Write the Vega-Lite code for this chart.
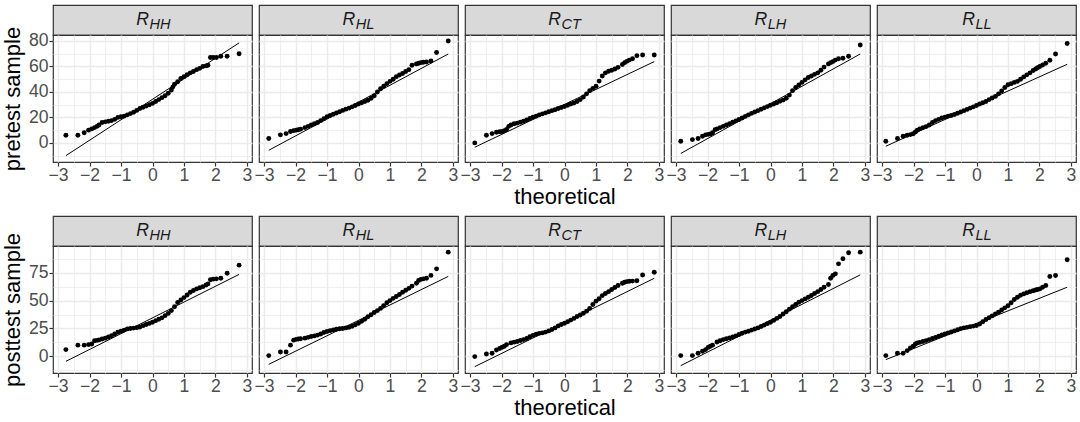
{
"$schema": "https://vega.github.io/schema/vega-lite/v6.json",
"padding": {"left": 0, "top": 4, "right": 0, "bottom": 0},
"config": {
 "view": {"stroke": null},
 "font": "Liberation Sans",
 "axis": {"labelFont": "Liberation Sans", "labelFontSize": 17.6, "labelColor": "#4d4d4d", "tickColor": "#333333", "tickSize": 4, "tickWidth": 1.2, "labelFlush": false, "titleFont": "Liberation Sans", "titleFontSize": 22, "titleFontWeight": "normal", "titleColor": "#000000", "gridColor": "#ebebeb", "domain": false},
 "axisX": {"labelPadding": 0, "titlePadding": 3},
 "axisY": {"labelPadding": 1, "titlePadding": 4}
},
"datasets": {
 "labs": [
  {"g": "HH", "m": "R", "s": "HH"}, {"g": "HL", "m": "R", "s": "HL"}, {"g": "CT", "m": "R", "s": "CT"}, {"g": "LH", "m": "R", "s": "LH"}, {"g": "LL", "m": "R", "s": "LL"}
 ],
 "qql": [
  {"t":"pre","g":"HH","x":-2.75,"y":-10},{"t":"pre","g":"HH","x":2.75,"y":78.5},
  {"t":"pre","g":"HL","x":-2.85,"y":-5.8},{"t":"pre","g":"HL","x":2.85,"y":69.8},
  {"t":"pre","g":"CT","x":-2.85,"y":-3.4},{"t":"pre","g":"CT","x":2.85,"y":63.8},
  {"t":"pre","g":"LH","x":-2.85,"y":-8.3},{"t":"pre","g":"LH","x":2.85,"y":69.8},
  {"t":"pre","g":"LL","x":-2.88,"y":-2.6},{"t":"pre","g":"LL","x":2.88,"y":61.7},
  {"t":"post","g":"HH","x":-2.75,"y":-4.5},{"t":"post","g":"HH","x":2.75,"y":73.5},
  {"t":"post","g":"HL","x":-2.85,"y":-7.2},{"t":"post","g":"HL","x":2.85,"y":71.7},
  {"t":"post","g":"CT","x":-2.85,"y":-9.3},{"t":"post","g":"CT","x":2.85,"y":70},
  {"t":"post","g":"LH","x":-2.85,"y":-8.4},{"t":"post","g":"LH","x":2.85,"y":73.1},
  {"t":"post","g":"LL","x":-2.88,"y":-3},{"t":"post","g":"LL","x":2.88,"y":62}
 ],
 "pts": [
  {"t":"pre","g":"HH","x":-2.75,"y":6},{"t":"pre","g":"HH","x":-2.37,"y":6},{"t":"pre","g":"HH","x":-2.17,"y":8},{"t":"pre","g":"HH","x":-2.03,"y":10},{"t":"pre","g":"HH","x":-1.93,"y":11},{"t":"pre","g":"HH","x":-1.84,"y":12},{"t":"pre","g":"HH","x":-1.76,"y":13},{"t":"pre","g":"HH","x":-1.7,"y":14},{"t":"pre","g":"HH","x":-1.6,"y":16},{"t":"pre","g":"HH","x":-1.5,"y":16.5},{"t":"pre","g":"HH","x":-1.4,"y":17},{"t":"pre","g":"HH","x":-1.3,"y":17.5},{"t":"pre","g":"HH","x":-1.2,"y":18.5},{"t":"pre","g":"HH","x":-1.1,"y":20},{"t":"pre","g":"HH","x":-1,"y":20.5},{"t":"pre","g":"HH","x":-0.9,"y":21},{"t":"pre","g":"HH","x":-0.8,"y":22},{"t":"pre","g":"HH","x":-0.7,"y":23},{"t":"pre","g":"HH","x":-0.6,"y":24},{"t":"pre","g":"HH","x":-0.5,"y":25.5},{"t":"pre","g":"HH","x":-0.4,"y":27},{"t":"pre","g":"HH","x":-0.3,"y":28},{"t":"pre","g":"HH","x":-0.2,"y":29},{"t":"pre","g":"HH","x":-0.1,"y":30},{"t":"pre","g":"HH","x":0,"y":31},{"t":"pre","g":"HH","x":0.1,"y":32.5},{"t":"pre","g":"HH","x":0.2,"y":34},{"t":"pre","g":"HH","x":0.3,"y":35.5},{"t":"pre","g":"HH","x":0.4,"y":37},{"t":"pre","g":"HH","x":0.5,"y":39},{"t":"pre","g":"HH","x":0.6,"y":41.5},{"t":"pre","g":"HH","x":0.65,"y":44},{"t":"pre","g":"HH","x":0.7,"y":46},{"t":"pre","g":"HH","x":0.8,"y":48},{"t":"pre","g":"HH","x":0.9,"y":50.5},{"t":"pre","g":"HH","x":1,"y":52},{"t":"pre","g":"HH","x":1.1,"y":53.5},{"t":"pre","g":"HH","x":1.2,"y":55},{"t":"pre","g":"HH","x":1.3,"y":56},{"t":"pre","g":"HH","x":1.4,"y":57.5},{"t":"pre","g":"HH","x":1.5,"y":58.5},{"t":"pre","g":"HH","x":1.6,"y":60},{"t":"pre","g":"HH","x":1.7,"y":60.5},{"t":"pre","g":"HH","x":1.76,"y":61},{"t":"pre","g":"HH","x":1.84,"y":67},{"t":"pre","g":"HH","x":1.93,"y":67},{"t":"pre","g":"HH","x":2.03,"y":67},{"t":"pre","g":"HH","x":2.17,"y":68},{"t":"pre","g":"HH","x":2.37,"y":68},{"t":"pre","g":"HH","x":2.75,"y":70},

  {"t":"pre","g":"HL","x":-2.85,"y":3.5},{"t":"pre","g":"HL","x":-2.48,"y":6.3},{"t":"pre","g":"HL","x":-2.3,"y":7.3},{"t":"pre","g":"HL","x":-2.16,"y":9},{"t":"pre","g":"HL","x":-2.06,"y":9.6},{"t":"pre","g":"HL","x":-1.98,"y":10},{"t":"pre","g":"HL","x":-1.91,"y":10.3},{"t":"pre","g":"HL","x":-1.84,"y":10.8},{"t":"pre","g":"HL","x":-1.7,"y":12},{"t":"pre","g":"HL","x":-1.6,"y":13},{"t":"pre","g":"HL","x":-1.5,"y":14},{"t":"pre","g":"HL","x":-1.4,"y":15},{"t":"pre","g":"HL","x":-1.3,"y":16},{"t":"pre","g":"HL","x":-1.2,"y":17.5},{"t":"pre","g":"HL","x":-1.1,"y":19},{"t":"pre","g":"HL","x":-1,"y":20.5},{"t":"pre","g":"HL","x":-0.9,"y":21.5},{"t":"pre","g":"HL","x":-0.8,"y":22.5},{"t":"pre","g":"HL","x":-0.7,"y":23.5},{"t":"pre","g":"HL","x":-0.6,"y":24.5},{"t":"pre","g":"HL","x":-0.5,"y":25.5},{"t":"pre","g":"HL","x":-0.4,"y":26.5},{"t":"pre","g":"HL","x":-0.3,"y":27.3},{"t":"pre","g":"HL","x":-0.2,"y":28.3},{"t":"pre","g":"HL","x":-0.1,"y":29.3},{"t":"pre","g":"HL","x":0,"y":30.5},{"t":"pre","g":"HL","x":0.1,"y":31.5},{"t":"pre","g":"HL","x":0.2,"y":32.5},{"t":"pre","g":"HL","x":0.3,"y":33.5},{"t":"pre","g":"HL","x":0.4,"y":35},{"t":"pre","g":"HL","x":0.5,"y":37},{"t":"pre","g":"HL","x":0.6,"y":40},{"t":"pre","g":"HL","x":0.7,"y":42.5},{"t":"pre","g":"HL","x":0.8,"y":44.5},{"t":"pre","g":"HL","x":0.9,"y":46.5},{"t":"pre","g":"HL","x":1,"y":48.3},{"t":"pre","g":"HL","x":1.1,"y":50},{"t":"pre","g":"HL","x":1.2,"y":52},{"t":"pre","g":"HL","x":1.3,"y":53.3},{"t":"pre","g":"HL","x":1.4,"y":54.5},{"t":"pre","g":"HL","x":1.5,"y":56},{"t":"pre","g":"HL","x":1.6,"y":57.5},{"t":"pre","g":"HL","x":1.7,"y":61},{"t":"pre","g":"HL","x":1.84,"y":62},{"t":"pre","g":"HL","x":1.91,"y":62.5},{"t":"pre","g":"HL","x":1.98,"y":63},{"t":"pre","g":"HL","x":2.06,"y":63.3},{"t":"pre","g":"HL","x":2.16,"y":63.5},{"t":"pre","g":"HL","x":2.3,"y":64.3},{"t":"pre","g":"HL","x":2.48,"y":71},{"t":"pre","g":"HL","x":2.85,"y":80},

  {"t":"pre","g":"CT","x":-2.85,"y":0},{"t":"pre","g":"CT","x":-2.48,"y":6},{"t":"pre","g":"CT","x":-2.3,"y":7.3},{"t":"pre","g":"CT","x":-2.16,"y":8.4},{"t":"pre","g":"CT","x":-2.06,"y":8.8},{"t":"pre","g":"CT","x":-1.98,"y":9},{"t":"pre","g":"CT","x":-1.91,"y":9.5},{"t":"pre","g":"CT","x":-1.84,"y":10.5},{"t":"pre","g":"CT","x":-1.77,"y":13},{"t":"pre","g":"CT","x":-1.7,"y":14},{"t":"pre","g":"CT","x":-1.6,"y":15},{"t":"pre","g":"CT","x":-1.5,"y":15.5},{"t":"pre","g":"CT","x":-1.4,"y":16.3},{"t":"pre","g":"CT","x":-1.3,"y":17},{"t":"pre","g":"CT","x":-1.2,"y":18},{"t":"pre","g":"CT","x":-1.1,"y":19.2},{"t":"pre","g":"CT","x":-1,"y":20.2},{"t":"pre","g":"CT","x":-0.9,"y":21},{"t":"pre","g":"CT","x":-0.8,"y":22},{"t":"pre","g":"CT","x":-0.7,"y":22.8},{"t":"pre","g":"CT","x":-0.6,"y":23.6},{"t":"pre","g":"CT","x":-0.5,"y":24.5},{"t":"pre","g":"CT","x":-0.4,"y":25.3},{"t":"pre","g":"CT","x":-0.3,"y":26},{"t":"pre","g":"CT","x":-0.2,"y":27},{"t":"pre","g":"CT","x":-0.1,"y":27.8},{"t":"pre","g":"CT","x":0,"y":28.6},{"t":"pre","g":"CT","x":0.1,"y":29.5},{"t":"pre","g":"CT","x":0.2,"y":30.5},{"t":"pre","g":"CT","x":0.3,"y":31.3},{"t":"pre","g":"CT","x":0.4,"y":32.5},{"t":"pre","g":"CT","x":0.5,"y":34},{"t":"pre","g":"CT","x":0.6,"y":36},{"t":"pre","g":"CT","x":0.7,"y":38.5},{"t":"pre","g":"CT","x":0.8,"y":41},{"t":"pre","g":"CT","x":0.9,"y":42.8},{"t":"pre","g":"CT","x":1,"y":44.5},{"t":"pre","g":"CT","x":1.1,"y":48.5},{"t":"pre","g":"CT","x":1.2,"y":52.5},{"t":"pre","g":"CT","x":1.3,"y":55},{"t":"pre","g":"CT","x":1.4,"y":56.3},{"t":"pre","g":"CT","x":1.5,"y":57},{"t":"pre","g":"CT","x":1.6,"y":58},{"t":"pre","g":"CT","x":1.7,"y":59.3},{"t":"pre","g":"CT","x":1.84,"y":61.5},{"t":"pre","g":"CT","x":1.91,"y":63},{"t":"pre","g":"CT","x":1.98,"y":64},{"t":"pre","g":"CT","x":2.06,"y":65},{"t":"pre","g":"CT","x":2.16,"y":66},{"t":"pre","g":"CT","x":2.3,"y":68.5},{"t":"pre","g":"CT","x":2.48,"y":69},{"t":"pre","g":"CT","x":2.85,"y":69},

  {"t":"pre","g":"LH","x":-2.85,"y":1.3},{"t":"pre","g":"LH","x":-2.48,"y":2.6},{"t":"pre","g":"LH","x":-2.3,"y":3.4},{"t":"pre","g":"LH","x":-2.16,"y":5.2},{"t":"pre","g":"LH","x":-2.06,"y":6.3},{"t":"pre","g":"LH","x":-1.98,"y":6.7},{"t":"pre","g":"LH","x":-1.91,"y":7},{"t":"pre","g":"LH","x":-1.84,"y":8},{"t":"pre","g":"LH","x":-1.76,"y":10.4},{"t":"pre","g":"LH","x":-1.7,"y":11},{"t":"pre","g":"LH","x":-1.6,"y":12},{"t":"pre","g":"LH","x":-1.5,"y":13},{"t":"pre","g":"LH","x":-1.4,"y":14},{"t":"pre","g":"LH","x":-1.3,"y":15},{"t":"pre","g":"LH","x":-1.2,"y":16.2},{"t":"pre","g":"LH","x":-1.1,"y":17.3},{"t":"pre","g":"LH","x":-1,"y":18.4},{"t":"pre","g":"LH","x":-0.9,"y":19.5},{"t":"pre","g":"LH","x":-0.8,"y":20.8},{"t":"pre","g":"LH","x":-0.7,"y":22},{"t":"pre","g":"LH","x":-0.6,"y":23.2},{"t":"pre","g":"LH","x":-0.5,"y":24.3},{"t":"pre","g":"LH","x":-0.4,"y":25.3},{"t":"pre","g":"LH","x":-0.3,"y":26.4},{"t":"pre","g":"LH","x":-0.2,"y":27.5},{"t":"pre","g":"LH","x":-0.1,"y":28.5},{"t":"pre","g":"LH","x":0,"y":29.5},{"t":"pre","g":"LH","x":0.1,"y":30.5},{"t":"pre","g":"LH","x":0.2,"y":31.5},{"t":"pre","g":"LH","x":0.3,"y":32.6},{"t":"pre","g":"LH","x":0.4,"y":33.6},{"t":"pre","g":"LH","x":0.5,"y":35},{"t":"pre","g":"LH","x":0.6,"y":37.5},{"t":"pre","g":"LH","x":0.7,"y":41},{"t":"pre","g":"LH","x":0.8,"y":43.5},{"t":"pre","g":"LH","x":0.9,"y":45.5},{"t":"pre","g":"LH","x":1,"y":47.5},{"t":"pre","g":"LH","x":1.1,"y":49.5},{"t":"pre","g":"LH","x":1.2,"y":51.3},{"t":"pre","g":"LH","x":1.3,"y":52.5},{"t":"pre","g":"LH","x":1.4,"y":53.8},{"t":"pre","g":"LH","x":1.5,"y":55},{"t":"pre","g":"LH","x":1.6,"y":57},{"t":"pre","g":"LH","x":1.7,"y":59.5},{"t":"pre","g":"LH","x":1.84,"y":62},{"t":"pre","g":"LH","x":1.91,"y":63},{"t":"pre","g":"LH","x":1.98,"y":63.8},{"t":"pre","g":"LH","x":2.06,"y":65},{"t":"pre","g":"LH","x":2.16,"y":66},{"t":"pre","g":"LH","x":2.3,"y":66.4},{"t":"pre","g":"LH","x":2.48,"y":68},{"t":"pre","g":"LH","x":2.85,"y":76.8},

  {"t":"pre","g":"LL","x":-2.88,"y":1.3},{"t":"pre","g":"LL","x":-2.51,"y":3.4},{"t":"pre","g":"LL","x":-2.33,"y":5.2},{"t":"pre","g":"LL","x":-2.2,"y":6},{"t":"pre","g":"LL","x":-2.1,"y":6.5},{"t":"pre","g":"LL","x":-2.01,"y":7.2},{"t":"pre","g":"LL","x":-1.94,"y":8.5},{"t":"pre","g":"LL","x":-1.88,"y":10},{"t":"pre","g":"LL","x":-1.8,"y":11},{"t":"pre","g":"LL","x":-1.7,"y":12},{"t":"pre","g":"LL","x":-1.6,"y":12.8},{"t":"pre","g":"LL","x":-1.5,"y":14},{"t":"pre","g":"LL","x":-1.4,"y":16},{"t":"pre","g":"LL","x":-1.3,"y":17.5},{"t":"pre","g":"LL","x":-1.2,"y":18.5},{"t":"pre","g":"LL","x":-1.1,"y":19.5},{"t":"pre","g":"LL","x":-1,"y":20.2},{"t":"pre","g":"LL","x":-0.9,"y":21},{"t":"pre","g":"LL","x":-0.8,"y":21.5},{"t":"pre","g":"LL","x":-0.7,"y":22.3},{"t":"pre","g":"LL","x":-0.6,"y":23.3},{"t":"pre","g":"LL","x":-0.5,"y":24.3},{"t":"pre","g":"LL","x":-0.4,"y":25.3},{"t":"pre","g":"LL","x":-0.3,"y":26.3},{"t":"pre","g":"LL","x":-0.2,"y":27.3},{"t":"pre","g":"LL","x":-0.1,"y":28.3},{"t":"pre","g":"LL","x":0,"y":29.4},{"t":"pre","g":"LL","x":0.1,"y":30.5},{"t":"pre","g":"LL","x":0.2,"y":31.5},{"t":"pre","g":"LL","x":0.3,"y":32.5},{"t":"pre","g":"LL","x":0.4,"y":34},{"t":"pre","g":"LL","x":0.5,"y":35.3},{"t":"pre","g":"LL","x":0.6,"y":36.5},{"t":"pre","g":"LL","x":0.7,"y":38.5},{"t":"pre","g":"LL","x":0.8,"y":40.8},{"t":"pre","g":"LL","x":0.9,"y":43.5},{"t":"pre","g":"LL","x":1,"y":45.6},{"t":"pre","g":"LL","x":1.1,"y":46.5},{"t":"pre","g":"LL","x":1.2,"y":47.5},{"t":"pre","g":"LL","x":1.3,"y":48.3},{"t":"pre","g":"LL","x":1.4,"y":50},{"t":"pre","g":"LL","x":1.5,"y":51.8},{"t":"pre","g":"LL","x":1.6,"y":53.4},{"t":"pre","g":"LL","x":1.7,"y":55},{"t":"pre","g":"LL","x":1.8,"y":56.8},{"t":"pre","g":"LL","x":1.88,"y":58},{"t":"pre","g":"LL","x":1.94,"y":59},{"t":"pre","g":"LL","x":2.01,"y":60},{"t":"pre","g":"LL","x":2.1,"y":61.2},{"t":"pre","g":"LL","x":2.2,"y":62.5},{"t":"pre","g":"LL","x":2.33,"y":64.9},{"t":"pre","g":"LL","x":2.51,"y":69.8},{"t":"pre","g":"LL","x":2.88,"y":78},

  {"t":"post","g":"HH","x":-2.75,"y":6},{"t":"post","g":"HH","x":-2.37,"y":10},{"t":"post","g":"HH","x":-2.17,"y":10},{"t":"post","g":"HH","x":-2.03,"y":10.5},{"t":"post","g":"HH","x":-1.93,"y":11},{"t":"post","g":"HH","x":-1.84,"y":14},{"t":"post","g":"HH","x":-1.76,"y":14.3},{"t":"post","g":"HH","x":-1.7,"y":14.7},{"t":"post","g":"HH","x":-1.6,"y":15.5},{"t":"post","g":"HH","x":-1.5,"y":16.3},{"t":"post","g":"HH","x":-1.4,"y":17.3},{"t":"post","g":"HH","x":-1.3,"y":18.5},{"t":"post","g":"HH","x":-1.2,"y":20},{"t":"post","g":"HH","x":-1.1,"y":21.6},{"t":"post","g":"HH","x":-1,"y":22.5},{"t":"post","g":"HH","x":-0.9,"y":23.5},{"t":"post","g":"HH","x":-0.8,"y":24.6},{"t":"post","g":"HH","x":-0.7,"y":25},{"t":"post","g":"HH","x":-0.6,"y":25.3},{"t":"post","g":"HH","x":-0.5,"y":25.7},{"t":"post","g":"HH","x":-0.4,"y":26.3},{"t":"post","g":"HH","x":-0.3,"y":27.5},{"t":"post","g":"HH","x":-0.2,"y":28.5},{"t":"post","g":"HH","x":-0.1,"y":29.5},{"t":"post","g":"HH","x":0,"y":30.6},{"t":"post","g":"HH","x":0.1,"y":32},{"t":"post","g":"HH","x":0.2,"y":33.3},{"t":"post","g":"HH","x":0.3,"y":34.5},{"t":"post","g":"HH","x":0.4,"y":36.5},{"t":"post","g":"HH","x":0.5,"y":38.5},{"t":"post","g":"HH","x":0.6,"y":41},{"t":"post","g":"HH","x":0.7,"y":44.5},{"t":"post","g":"HH","x":0.8,"y":48.3},{"t":"post","g":"HH","x":0.9,"y":50.5},{"t":"post","g":"HH","x":1,"y":52.7},{"t":"post","g":"HH","x":1.1,"y":55},{"t":"post","g":"HH","x":1.2,"y":57.5},{"t":"post","g":"HH","x":1.3,"y":59},{"t":"post","g":"HH","x":1.4,"y":60.5},{"t":"post","g":"HH","x":1.5,"y":61.5},{"t":"post","g":"HH","x":1.6,"y":62.5},{"t":"post","g":"HH","x":1.7,"y":64},{"t":"post","g":"HH","x":1.76,"y":65},{"t":"post","g":"HH","x":1.84,"y":68.7},{"t":"post","g":"HH","x":1.93,"y":69.3},{"t":"post","g":"HH","x":2.03,"y":69.5},{"t":"post","g":"HH","x":2.17,"y":70},{"t":"post","g":"HH","x":2.37,"y":74.6},{"t":"post","g":"HH","x":2.75,"y":81.8},

  {"t":"post","g":"HL","x":-2.85,"y":0.6},{"t":"post","g":"HL","x":-2.48,"y":3.9},{"t":"post","g":"HL","x":-2.3,"y":3.9},{"t":"post","g":"HL","x":-2.16,"y":10},{"t":"post","g":"HL","x":-2.06,"y":14.5},{"t":"post","g":"HL","x":-1.98,"y":15.2},{"t":"post","g":"HL","x":-1.91,"y":15.5},{"t":"post","g":"HL","x":-1.84,"y":15.8},{"t":"post","g":"HL","x":-1.7,"y":16.3},{"t":"post","g":"HL","x":-1.6,"y":17},{"t":"post","g":"HL","x":-1.5,"y":17.7},{"t":"post","g":"HL","x":-1.4,"y":18.3},{"t":"post","g":"HL","x":-1.3,"y":19},{"t":"post","g":"HL","x":-1.2,"y":20},{"t":"post","g":"HL","x":-1.1,"y":21.3},{"t":"post","g":"HL","x":-1,"y":22.3},{"t":"post","g":"HL","x":-0.9,"y":23},{"t":"post","g":"HL","x":-0.8,"y":23.7},{"t":"post","g":"HL","x":-0.7,"y":24.3},{"t":"post","g":"HL","x":-0.6,"y":24.7},{"t":"post","g":"HL","x":-0.5,"y":25},{"t":"post","g":"HL","x":-0.4,"y":25.5},{"t":"post","g":"HL","x":-0.3,"y":26},{"t":"post","g":"HL","x":-0.2,"y":27},{"t":"post","g":"HL","x":-0.1,"y":28.3},{"t":"post","g":"HL","x":0,"y":29.7},{"t":"post","g":"HL","x":0.1,"y":31.5},{"t":"post","g":"HL","x":0.2,"y":33.3},{"t":"post","g":"HL","x":0.3,"y":35.5},{"t":"post","g":"HL","x":0.4,"y":37.3},{"t":"post","g":"HL","x":0.5,"y":39.3},{"t":"post","g":"HL","x":0.6,"y":41},{"t":"post","g":"HL","x":0.7,"y":43},{"t":"post","g":"HL","x":0.8,"y":45.5},{"t":"post","g":"HL","x":0.9,"y":48},{"t":"post","g":"HL","x":1,"y":50},{"t":"post","g":"HL","x":1.1,"y":52},{"t":"post","g":"HL","x":1.2,"y":53.7},{"t":"post","g":"HL","x":1.3,"y":55.5},{"t":"post","g":"HL","x":1.4,"y":57.5},{"t":"post","g":"HL","x":1.5,"y":59.3},{"t":"post","g":"HL","x":1.6,"y":61},{"t":"post","g":"HL","x":1.7,"y":63},{"t":"post","g":"HL","x":1.84,"y":65.5},{"t":"post","g":"HL","x":1.91,"y":68},{"t":"post","g":"HL","x":1.98,"y":69},{"t":"post","g":"HL","x":2.06,"y":69.5},{"t":"post","g":"HL","x":2.16,"y":70},{"t":"post","g":"HL","x":2.3,"y":72.6},{"t":"post","g":"HL","x":2.48,"y":78.5},{"t":"post","g":"HL","x":2.85,"y":93.5},

  {"t":"post","g":"CT","x":-2.85,"y":-0.3},{"t":"post","g":"CT","x":-2.48,"y":2.1},{"t":"post","g":"CT","x":-2.3,"y":2.7},{"t":"post","g":"CT","x":-2.16,"y":5.7},{"t":"post","g":"CT","x":-2.06,"y":7},{"t":"post","g":"CT","x":-1.98,"y":8.1},{"t":"post","g":"CT","x":-1.91,"y":9},{"t":"post","g":"CT","x":-1.84,"y":10.5},{"t":"post","g":"CT","x":-1.7,"y":12},{"t":"post","g":"CT","x":-1.6,"y":12.7},{"t":"post","g":"CT","x":-1.5,"y":13.3},{"t":"post","g":"CT","x":-1.4,"y":14.2},{"t":"post","g":"CT","x":-1.3,"y":15},{"t":"post","g":"CT","x":-1.2,"y":16},{"t":"post","g":"CT","x":-1.1,"y":17.5},{"t":"post","g":"CT","x":-1,"y":18.8},{"t":"post","g":"CT","x":-0.9,"y":19.8},{"t":"post","g":"CT","x":-0.8,"y":20.6},{"t":"post","g":"CT","x":-0.7,"y":21},{"t":"post","g":"CT","x":-0.6,"y":21.7},{"t":"post","g":"CT","x":-0.5,"y":22.8},{"t":"post","g":"CT","x":-0.4,"y":24},{"t":"post","g":"CT","x":-0.3,"y":25.5},{"t":"post","g":"CT","x":-0.2,"y":27.3},{"t":"post","g":"CT","x":-0.1,"y":28.5},{"t":"post","g":"CT","x":0,"y":29.7},{"t":"post","g":"CT","x":0.1,"y":31},{"t":"post","g":"CT","x":0.2,"y":32.5},{"t":"post","g":"CT","x":0.3,"y":34},{"t":"post","g":"CT","x":0.4,"y":35.7},{"t":"post","g":"CT","x":0.5,"y":37},{"t":"post","g":"CT","x":0.6,"y":38.7},{"t":"post","g":"CT","x":0.7,"y":40.5},{"t":"post","g":"CT","x":0.8,"y":43},{"t":"post","g":"CT","x":0.9,"y":46.5},{"t":"post","g":"CT","x":1,"y":49.5},{"t":"post","g":"CT","x":1.1,"y":51.7},{"t":"post","g":"CT","x":1.2,"y":54.5},{"t":"post","g":"CT","x":1.3,"y":56.3},{"t":"post","g":"CT","x":1.4,"y":58},{"t":"post","g":"CT","x":1.5,"y":60},{"t":"post","g":"CT","x":1.6,"y":61.8},{"t":"post","g":"CT","x":1.7,"y":63.5},{"t":"post","g":"CT","x":1.84,"y":65.5},{"t":"post","g":"CT","x":1.91,"y":66.5},{"t":"post","g":"CT","x":1.98,"y":67},{"t":"post","g":"CT","x":2.06,"y":67.3},{"t":"post","g":"CT","x":2.16,"y":67.5},{"t":"post","g":"CT","x":2.3,"y":67.8},{"t":"post","g":"CT","x":2.48,"y":73},{"t":"post","g":"CT","x":2.85,"y":75.5},

  {"t":"post","g":"LH","x":-2.85,"y":0.6},{"t":"post","g":"LH","x":-2.48,"y":0.6},{"t":"post","g":"LH","x":-2.3,"y":2.7},{"t":"post","g":"LH","x":-2.16,"y":4.5},{"t":"post","g":"LH","x":-2.06,"y":6},{"t":"post","g":"LH","x":-1.98,"y":8},{"t":"post","g":"LH","x":-1.91,"y":9},{"t":"post","g":"LH","x":-1.84,"y":10},{"t":"post","g":"LH","x":-1.7,"y":12.8},{"t":"post","g":"LH","x":-1.6,"y":14},{"t":"post","g":"LH","x":-1.5,"y":15},{"t":"post","g":"LH","x":-1.4,"y":15.8},{"t":"post","g":"LH","x":-1.3,"y":16.5},{"t":"post","g":"LH","x":-1.2,"y":17.3},{"t":"post","g":"LH","x":-1.1,"y":18.3},{"t":"post","g":"LH","x":-1,"y":19.5},{"t":"post","g":"LH","x":-0.9,"y":20.7},{"t":"post","g":"LH","x":-0.8,"y":21.7},{"t":"post","g":"LH","x":-0.7,"y":22.5},{"t":"post","g":"LH","x":-0.6,"y":23.5},{"t":"post","g":"LH","x":-0.5,"y":24.5},{"t":"post","g":"LH","x":-0.4,"y":25.5},{"t":"post","g":"LH","x":-0.3,"y":26.7},{"t":"post","g":"LH","x":-0.2,"y":28},{"t":"post","g":"LH","x":-0.1,"y":29.3},{"t":"post","g":"LH","x":0,"y":30.6},{"t":"post","g":"LH","x":0.1,"y":32.2},{"t":"post","g":"LH","x":0.2,"y":34},{"t":"post","g":"LH","x":0.3,"y":35.7},{"t":"post","g":"LH","x":0.4,"y":38},{"t":"post","g":"LH","x":0.5,"y":40},{"t":"post","g":"LH","x":0.6,"y":42.3},{"t":"post","g":"LH","x":0.7,"y":44.5},{"t":"post","g":"LH","x":0.8,"y":46.5},{"t":"post","g":"LH","x":0.9,"y":48.5},{"t":"post","g":"LH","x":1,"y":50},{"t":"post","g":"LH","x":1.1,"y":51.5},{"t":"post","g":"LH","x":1.2,"y":53},{"t":"post","g":"LH","x":1.3,"y":54.6},{"t":"post","g":"LH","x":1.4,"y":56.3},{"t":"post","g":"LH","x":1.5,"y":58},{"t":"post","g":"LH","x":1.6,"y":60},{"t":"post","g":"LH","x":1.7,"y":62},{"t":"post","g":"LH","x":1.84,"y":64.5},{"t":"post","g":"LH","x":1.91,"y":70},{"t":"post","g":"LH","x":1.98,"y":72.5},{"t":"post","g":"LH","x":2.06,"y":74},{"t":"post","g":"LH","x":2.16,"y":83},{"t":"post","g":"LH","x":2.3,"y":87.5},{"t":"post","g":"LH","x":2.48,"y":93},{"t":"post","g":"LH","x":2.85,"y":93.5},

  {"t":"post","g":"LL","x":-2.88,"y":0.6},{"t":"post","g":"LL","x":-2.51,"y":2.7},{"t":"post","g":"LL","x":-2.33,"y":2.7},{"t":"post","g":"LL","x":-2.2,"y":5.1},{"t":"post","g":"LL","x":-2.1,"y":7.5},{"t":"post","g":"LL","x":-2.01,"y":9},{"t":"post","g":"LL","x":-1.94,"y":11},{"t":"post","g":"LL","x":-1.88,"y":12},{"t":"post","g":"LL","x":-1.8,"y":12.5},{"t":"post","g":"LL","x":-1.7,"y":13.3},{"t":"post","g":"LL","x":-1.6,"y":14.1},{"t":"post","g":"LL","x":-1.5,"y":15},{"t":"post","g":"LL","x":-1.4,"y":16},{"t":"post","g":"LL","x":-1.3,"y":17},{"t":"post","g":"LL","x":-1.2,"y":18},{"t":"post","g":"LL","x":-1.1,"y":19.2},{"t":"post","g":"LL","x":-1,"y":20},{"t":"post","g":"LL","x":-0.9,"y":21},{"t":"post","g":"LL","x":-0.8,"y":21.8},{"t":"post","g":"LL","x":-0.7,"y":22.8},{"t":"post","g":"LL","x":-0.6,"y":23.8},{"t":"post","g":"LL","x":-0.5,"y":24.8},{"t":"post","g":"LL","x":-0.4,"y":25.5},{"t":"post","g":"LL","x":-0.3,"y":26},{"t":"post","g":"LL","x":-0.2,"y":26.6},{"t":"post","g":"LL","x":-0.1,"y":27.1},{"t":"post","g":"LL","x":0,"y":27.6},{"t":"post","g":"LL","x":0.1,"y":29},{"t":"post","g":"LL","x":0.2,"y":31},{"t":"post","g":"LL","x":0.3,"y":33},{"t":"post","g":"LL","x":0.4,"y":34.6},{"t":"post","g":"LL","x":0.5,"y":36.3},{"t":"post","g":"LL","x":0.6,"y":38},{"t":"post","g":"LL","x":0.7,"y":39.6},{"t":"post","g":"LL","x":0.8,"y":41.5},{"t":"post","g":"LL","x":0.9,"y":43.5},{"t":"post","g":"LL","x":1,"y":45.3},{"t":"post","g":"LL","x":1.1,"y":48},{"t":"post","g":"LL","x":1.2,"y":51},{"t":"post","g":"LL","x":1.3,"y":53},{"t":"post","g":"LL","x":1.4,"y":54.8},{"t":"post","g":"LL","x":1.5,"y":56},{"t":"post","g":"LL","x":1.6,"y":57},{"t":"post","g":"LL","x":1.7,"y":58},{"t":"post","g":"LL","x":1.8,"y":58.8},{"t":"post","g":"LL","x":1.88,"y":59.5},{"t":"post","g":"LL","x":1.94,"y":60},{"t":"post","g":"LL","x":2.01,"y":60.5},{"t":"post","g":"LL","x":2.1,"y":62},{"t":"post","g":"LL","x":2.2,"y":63.5},{"t":"post","g":"LL","x":2.33,"y":71.6},{"t":"post","g":"LL","x":2.51,"y":72.5},{"t":"post","g":"LL","x":2.88,"y":86.6}
 ]
},
"columns": 5,
"spacing": {"row": 0, "column": 7},
"bounds": "flush",
"align": "each",
"concat": [
 {"width":199,"height":30,"view":{"fill":"#d9d9d9","stroke":"#333333","strokeWidth":1.2},"data":{"name":"labs"},"transform":[{"filter":"datum.g==='HH'"}],"layer":[
  {"mark":{"type":"text","align":"right","baseline":"alphabetic","dx":-3.5,"dy":5,"fontSize":17.6,"fontStyle":"italic","color":"#1a1a1a"},"encoding":{"text":{"field":"m"}}},
  {"mark":{"type":"text","align":"left","baseline":"alphabetic","dx":-3,"dy":8.5,"fontSize":14.5,"fontStyle":"italic","color":"#1a1a1a"},"encoding":{"text":{"field":"s"}}}]},
 {"width":199,"height":30,"view":{"fill":"#d9d9d9","stroke":"#333333","strokeWidth":1.2},"data":{"name":"labs"},"transform":[{"filter":"datum.g==='HL'"}],"layer":[
  {"mark":{"type":"text","align":"right","baseline":"alphabetic","dx":-3.3,"dy":5,"fontSize":17.6,"fontStyle":"italic","color":"#1a1a1a"},"encoding":{"text":{"field":"m"}}},
  {"mark":{"type":"text","align":"left","baseline":"alphabetic","dx":-2.8,"dy":8.5,"fontSize":14.5,"fontStyle":"italic","color":"#1a1a1a"},"encoding":{"text":{"field":"s"}}}]},
 {"width":199,"height":30,"view":{"fill":"#d9d9d9","stroke":"#333333","strokeWidth":1.2},"data":{"name":"labs"},"transform":[{"filter":"datum.g==='CT'"}],"layer":[
  {"mark":{"type":"text","align":"right","baseline":"alphabetic","dx":-3.5,"dy":5,"fontSize":17.6,"fontStyle":"italic","color":"#1a1a1a"},"encoding":{"text":{"field":"m"}}},
  {"mark":{"type":"text","align":"left","baseline":"alphabetic","dx":-3,"dy":8.5,"fontSize":14.5,"fontStyle":"italic","color":"#1a1a1a"},"encoding":{"text":{"field":"s"}}}]},
 {"width":199,"height":30,"view":{"fill":"#d9d9d9","stroke":"#333333","strokeWidth":1.2},"data":{"name":"labs"},"transform":[{"filter":"datum.g==='LH'"}],"layer":[
  {"mark":{"type":"text","align":"right","baseline":"alphabetic","dx":-3.3,"dy":5,"fontSize":17.6,"fontStyle":"italic","color":"#1a1a1a"},"encoding":{"text":{"field":"m"}}},
  {"mark":{"type":"text","align":"left","baseline":"alphabetic","dx":-2.8,"dy":8.5,"fontSize":14.5,"fontStyle":"italic","color":"#1a1a1a"},"encoding":{"text":{"field":"s"}}}]},
 {"width":199,"height":30,"view":{"fill":"#d9d9d9","stroke":"#333333","strokeWidth":1.2},"data":{"name":"labs"},"transform":[{"filter":"datum.g==='LL'"}],"layer":[
  {"mark":{"type":"text","align":"right","baseline":"alphabetic","dx":-1.5,"dy":5,"fontSize":17.6,"fontStyle":"italic","color":"#1a1a1a"},"encoding":{"text":{"field":"m"}}},
  {"mark":{"type":"text","align":"left","baseline":"alphabetic","dx":-1,"dy":8.5,"fontSize":14.5,"fontStyle":"italic","color":"#1a1a1a"},"encoding":{"text":{"field":"s"}}}]},

 {"width":199,"height":127,"view":{"stroke":"#333333","strokeWidth":1.2},"resolve":{"axis":{"x":"independent","y":"independent"}},"layer":[
  {"data":{"name":"pts"},"transform":[{"filter":"datum.t==='pre'&&datum.g==='HH'"}],"mark":{"type":"circle","size":24,"color":"#000000","opacity":1},
   "encoding":{"x":{"field":"x","type":"quantitative","scale":{"domain":[-3.16,3.16],"nice":false,"zero":false},"axis":{"orient":"bottom","values":[-2.5,-1.5,-0.5,0.5,1.5,2.5],"labels":false,"ticks":false,"grid":true,"gridWidth":0.8,"title":null}},
    "y":{"field":"y","type":"quantitative","scale":{"domain":[-15,84.7],"nice":false,"zero":false},"axis":{"orient":"left","values":[-10,10,30,50,70],"labels":false,"ticks":false,"grid":true,"gridWidth":0.8,"title":null}}}},
  {"data":{"name":"qql"},"transform":[{"filter":"datum.t==='pre'&&datum.g==='HH'"}],"mark":{"type":"line","color":"#000000","strokeWidth":1},
   "encoding":{"x":{"field":"x","type":"quantitative","axis":{"orient":"bottom","values":[-3,-2,-1,0,1,2,3],"grid":true,"gridWidth":1.5,"title":null}},
    "y":{"field":"y","type":"quantitative","axis":{"orient":"left","values":[0,20,40,60,80],"grid":true,"gridWidth":1.5,"title":"pretest sample"}}}}]},
 {"width":199,"height":127,"view":{"stroke":"#333333","strokeWidth":1.2},"resolve":{"axis":{"x":"independent","y":"independent"}},"layer":[
  {"data":{"name":"pts"},"transform":[{"filter":"datum.t==='pre'&&datum.g==='HL'"}],"mark":{"type":"circle","size":24,"color":"#000000","opacity":1},
   "encoding":{"x":{"field":"x","type":"quantitative","scale":{"domain":[-3.16,3.16],"nice":false,"zero":false},"axis":{"orient":"bottom","values":[-2.5,-1.5,-0.5,0.5,1.5,2.5],"labels":false,"ticks":false,"grid":true,"gridWidth":0.8,"title":null}},
    "y":{"field":"y","type":"quantitative","scale":{"domain":[-15,84.7],"nice":false,"zero":false},"axis":{"orient":"left","values":[-10,10,30,50,70],"labels":false,"ticks":false,"grid":true,"gridWidth":0.8,"title":null}}}},
  {"data":{"name":"qql"},"transform":[{"filter":"datum.t==='pre'&&datum.g==='HL'"}],"mark":{"type":"line","color":"#000000","strokeWidth":1},
   "encoding":{"x":{"field":"x","type":"quantitative","axis":{"orient":"bottom","values":[-3,-2,-1,0,1,2,3],"grid":true,"gridWidth":1.5,"title":null}},
    "y":{"field":"y","type":"quantitative","axis":{"orient":"left","values":[0,20,40,60,80],"grid":true,"gridWidth":1.5,"labels":false,"ticks":false,"title":null}}}}]},
 {"width":199,"height":127,"view":{"stroke":"#333333","strokeWidth":1.2},"resolve":{"axis":{"x":"independent","y":"independent"}},"layer":[
  {"data":{"name":"pts"},"transform":[{"filter":"datum.t==='pre'&&datum.g==='CT'"}],"mark":{"type":"circle","size":24,"color":"#000000","opacity":1},
   "encoding":{"x":{"field":"x","type":"quantitative","scale":{"domain":[-3.16,3.16],"nice":false,"zero":false},"axis":{"orient":"bottom","values":[-2.5,-1.5,-0.5,0.5,1.5,2.5],"labels":false,"ticks":false,"grid":true,"gridWidth":0.8,"title":null}},
    "y":{"field":"y","type":"quantitative","scale":{"domain":[-15,84.7],"nice":false,"zero":false},"axis":{"orient":"left","values":[-10,10,30,50,70],"labels":false,"ticks":false,"grid":true,"gridWidth":0.8,"title":null}}}},
  {"data":{"name":"qql"},"transform":[{"filter":"datum.t==='pre'&&datum.g==='CT'"}],"mark":{"type":"line","color":"#000000","strokeWidth":1},
   "encoding":{"x":{"field":"x","type":"quantitative","axis":{"orient":"bottom","values":[-3,-2,-1,0,1,2,3],"grid":true,"gridWidth":1.5,"title":"theoretical"}},
    "y":{"field":"y","type":"quantitative","axis":{"orient":"left","values":[0,20,40,60,80],"grid":true,"gridWidth":1.5,"labels":false,"ticks":false,"title":null}}}}]},
 {"width":199,"height":127,"view":{"stroke":"#333333","strokeWidth":1.2},"resolve":{"axis":{"x":"independent","y":"independent"}},"layer":[
  {"data":{"name":"pts"},"transform":[{"filter":"datum.t==='pre'&&datum.g==='LH'"}],"mark":{"type":"circle","size":24,"color":"#000000","opacity":1},
   "encoding":{"x":{"field":"x","type":"quantitative","scale":{"domain":[-3.16,3.16],"nice":false,"zero":false},"axis":{"orient":"bottom","values":[-2.5,-1.5,-0.5,0.5,1.5,2.5],"labels":false,"ticks":false,"grid":true,"gridWidth":0.8,"title":null}},
    "y":{"field":"y","type":"quantitative","scale":{"domain":[-15,84.7],"nice":false,"zero":false},"axis":{"orient":"left","values":[-10,10,30,50,70],"labels":false,"ticks":false,"grid":true,"gridWidth":0.8,"title":null}}}},
  {"data":{"name":"qql"},"transform":[{"filter":"datum.t==='pre'&&datum.g==='LH'"}],"mark":{"type":"line","color":"#000000","strokeWidth":1},
   "encoding":{"x":{"field":"x","type":"quantitative","axis":{"orient":"bottom","values":[-3,-2,-1,0,1,2,3],"grid":true,"gridWidth":1.5,"title":null}},
    "y":{"field":"y","type":"quantitative","axis":{"orient":"left","values":[0,20,40,60,80],"grid":true,"gridWidth":1.5,"labels":false,"ticks":false,"title":null}}}}]},
 {"width":199,"height":127,"view":{"stroke":"#333333","strokeWidth":1.2},"resolve":{"axis":{"x":"independent","y":"independent"}},"layer":[
  {"data":{"name":"pts"},"transform":[{"filter":"datum.t==='pre'&&datum.g==='LL'"}],"mark":{"type":"circle","size":24,"color":"#000000","opacity":1},
   "encoding":{"x":{"field":"x","type":"quantitative","scale":{"domain":[-3.16,3.16],"nice":false,"zero":false},"axis":{"orient":"bottom","values":[-2.5,-1.5,-0.5,0.5,1.5,2.5],"labels":false,"ticks":false,"grid":true,"gridWidth":0.8,"title":null}},
    "y":{"field":"y","type":"quantitative","scale":{"domain":[-15,84.7],"nice":false,"zero":false},"axis":{"orient":"left","values":[-10,10,30,50,70],"labels":false,"ticks":false,"grid":true,"gridWidth":0.8,"title":null}}}},
  {"data":{"name":"qql"},"transform":[{"filter":"datum.t==='pre'&&datum.g==='LL'"}],"mark":{"type":"line","color":"#000000","strokeWidth":1},
   "encoding":{"x":{"field":"x","type":"quantitative","axis":{"orient":"bottom","values":[-3,-2,-1,0,1,2,3],"grid":true,"gridWidth":1.5,"title":null}},
    "y":{"field":"y","type":"quantitative","axis":{"orient":"left","values":[0,20,40,60,80],"grid":true,"gridWidth":1.5,"labels":false,"ticks":false,"title":null}}}}]},

 {"width":199,"height":54,"data":{"values":[]},"mark":{"type":"point","opacity":0},"encoding":{}},
 {"width":199,"height":54,"data":{"values":[]},"mark":{"type":"point","opacity":0},"encoding":{}},
 {"width":199,"height":54,"data":{"values":[]},"mark":{"type":"point","opacity":0},"encoding":{}},
 {"width":199,"height":54,"data":{"values":[]},"mark":{"type":"point","opacity":0},"encoding":{}},
 {"width":199,"height":54,"data":{"values":[]},"mark":{"type":"point","opacity":0},"encoding":{}},

 {"width":199,"height":30,"view":{"fill":"#d9d9d9","stroke":"#333333","strokeWidth":1.2},"data":{"name":"labs"},"transform":[{"filter":"datum.g==='HH'"}],"layer":[
  {"mark":{"type":"text","align":"right","baseline":"alphabetic","dx":-3.5,"dy":5,"fontSize":17.6,"fontStyle":"italic","color":"#1a1a1a"},"encoding":{"text":{"field":"m"}}},
  {"mark":{"type":"text","align":"left","baseline":"alphabetic","dx":-3,"dy":8.5,"fontSize":14.5,"fontStyle":"italic","color":"#1a1a1a"},"encoding":{"text":{"field":"s"}}}]},
 {"width":199,"height":30,"view":{"fill":"#d9d9d9","stroke":"#333333","strokeWidth":1.2},"data":{"name":"labs"},"transform":[{"filter":"datum.g==='HL'"}],"layer":[
  {"mark":{"type":"text","align":"right","baseline":"alphabetic","dx":-3.3,"dy":5,"fontSize":17.6,"fontStyle":"italic","color":"#1a1a1a"},"encoding":{"text":{"field":"m"}}},
  {"mark":{"type":"text","align":"left","baseline":"alphabetic","dx":-2.8,"dy":8.5,"fontSize":14.5,"fontStyle":"italic","color":"#1a1a1a"},"encoding":{"text":{"field":"s"}}}]},
 {"width":199,"height":30,"view":{"fill":"#d9d9d9","stroke":"#333333","strokeWidth":1.2},"data":{"name":"labs"},"transform":[{"filter":"datum.g==='CT'"}],"layer":[
  {"mark":{"type":"text","align":"right","baseline":"alphabetic","dx":-3.5,"dy":5,"fontSize":17.6,"fontStyle":"italic","color":"#1a1a1a"},"encoding":{"text":{"field":"m"}}},
  {"mark":{"type":"text","align":"left","baseline":"alphabetic","dx":-3,"dy":8.5,"fontSize":14.5,"fontStyle":"italic","color":"#1a1a1a"},"encoding":{"text":{"field":"s"}}}]},
 {"width":199,"height":30,"view":{"fill":"#d9d9d9","stroke":"#333333","strokeWidth":1.2},"data":{"name":"labs"},"transform":[{"filter":"datum.g==='LH'"}],"layer":[
  {"mark":{"type":"text","align":"right","baseline":"alphabetic","dx":-3.3,"dy":5,"fontSize":17.6,"fontStyle":"italic","color":"#1a1a1a"},"encoding":{"text":{"field":"m"}}},
  {"mark":{"type":"text","align":"left","baseline":"alphabetic","dx":-2.8,"dy":8.5,"fontSize":14.5,"fontStyle":"italic","color":"#1a1a1a"},"encoding":{"text":{"field":"s"}}}]},
 {"width":199,"height":30,"view":{"fill":"#d9d9d9","stroke":"#333333","strokeWidth":1.2},"data":{"name":"labs"},"transform":[{"filter":"datum.g==='LL'"}],"layer":[
  {"mark":{"type":"text","align":"right","baseline":"alphabetic","dx":-1.5,"dy":5,"fontSize":17.6,"fontStyle":"italic","color":"#1a1a1a"},"encoding":{"text":{"field":"m"}}},
  {"mark":{"type":"text","align":"left","baseline":"alphabetic","dx":-1,"dy":8.5,"fontSize":14.5,"fontStyle":"italic","color":"#1a1a1a"},"encoding":{"text":{"field":"s"}}}]},

 {"width":199,"height":127,"view":{"stroke":"#333333","strokeWidth":1.2},"resolve":{"axis":{"x":"independent","y":"independent"}},"layer":[
  {"data":{"name":"pts"},"transform":[{"filter":"datum.t==='post'&&datum.g==='HH'"}],"mark":{"type":"circle","size":24,"color":"#000000","opacity":1},
   "encoding":{"x":{"field":"x","type":"quantitative","scale":{"domain":[-3.16,3.16],"nice":false,"zero":false},"axis":{"orient":"bottom","values":[-2.5,-1.5,-0.5,0.5,1.5,2.5],"labels":false,"ticks":false,"grid":true,"gridWidth":0.8,"title":null}},
    "y":{"field":"y","type":"quantitative","scale":{"domain":[-15,99],"nice":false,"zero":false},"axis":{"orient":"left","values":[-12.5,12.5,37.5,62.5,87.5],"labels":false,"ticks":false,"grid":true,"gridWidth":0.8,"title":null}}}},
  {"data":{"name":"qql"},"transform":[{"filter":"datum.t==='post'&&datum.g==='HH'"}],"mark":{"type":"line","color":"#000000","strokeWidth":1},
   "encoding":{"x":{"field":"x","type":"quantitative","axis":{"orient":"bottom","values":[-3,-2,-1,0,1,2,3],"grid":true,"gridWidth":1.5,"title":null}},
    "y":{"field":"y","type":"quantitative","axis":{"orient":"left","values":[0,25,50,75],"grid":true,"gridWidth":1.5,"title":"posttest sample"}}}}]},
 {"width":199,"height":127,"view":{"stroke":"#333333","strokeWidth":1.2},"resolve":{"axis":{"x":"independent","y":"independent"}},"layer":[
  {"data":{"name":"pts"},"transform":[{"filter":"datum.t==='post'&&datum.g==='HL'"}],"mark":{"type":"circle","size":24,"color":"#000000","opacity":1},
   "encoding":{"x":{"field":"x","type":"quantitative","scale":{"domain":[-3.16,3.16],"nice":false,"zero":false},"axis":{"orient":"bottom","values":[-2.5,-1.5,-0.5,0.5,1.5,2.5],"labels":false,"ticks":false,"grid":true,"gridWidth":0.8,"title":null}},
    "y":{"field":"y","type":"quantitative","scale":{"domain":[-15,99],"nice":false,"zero":false},"axis":{"orient":"left","values":[-12.5,12.5,37.5,62.5,87.5],"labels":false,"ticks":false,"grid":true,"gridWidth":0.8,"title":null}}}},
  {"data":{"name":"qql"},"transform":[{"filter":"datum.t==='post'&&datum.g==='HL'"}],"mark":{"type":"line","color":"#000000","strokeWidth":1},
   "encoding":{"x":{"field":"x","type":"quantitative","axis":{"orient":"bottom","values":[-3,-2,-1,0,1,2,3],"grid":true,"gridWidth":1.5,"title":null}},
    "y":{"field":"y","type":"quantitative","axis":{"orient":"left","values":[0,25,50,75],"grid":true,"gridWidth":1.5,"labels":false,"ticks":false,"title":null}}}}]},
 {"width":199,"height":127,"view":{"stroke":"#333333","strokeWidth":1.2},"resolve":{"axis":{"x":"independent","y":"independent"}},"layer":[
  {"data":{"name":"pts"},"transform":[{"filter":"datum.t==='post'&&datum.g==='CT'"}],"mark":{"type":"circle","size":24,"color":"#000000","opacity":1},
   "encoding":{"x":{"field":"x","type":"quantitative","scale":{"domain":[-3.16,3.16],"nice":false,"zero":false},"axis":{"orient":"bottom","values":[-2.5,-1.5,-0.5,0.5,1.5,2.5],"labels":false,"ticks":false,"grid":true,"gridWidth":0.8,"title":null}},
    "y":{"field":"y","type":"quantitative","scale":{"domain":[-15,99],"nice":false,"zero":false},"axis":{"orient":"left","values":[-12.5,12.5,37.5,62.5,87.5],"labels":false,"ticks":false,"grid":true,"gridWidth":0.8,"title":null}}}},
  {"data":{"name":"qql"},"transform":[{"filter":"datum.t==='post'&&datum.g==='CT'"}],"mark":{"type":"line","color":"#000000","strokeWidth":1},
   "encoding":{"x":{"field":"x","type":"quantitative","axis":{"orient":"bottom","values":[-3,-2,-1,0,1,2,3],"grid":true,"gridWidth":1.5,"title":"theoretical"}},
    "y":{"field":"y","type":"quantitative","axis":{"orient":"left","values":[0,25,50,75],"grid":true,"gridWidth":1.5,"labels":false,"ticks":false,"title":null}}}}]},
 {"width":199,"height":127,"view":{"stroke":"#333333","strokeWidth":1.2},"resolve":{"axis":{"x":"independent","y":"independent"}},"layer":[
  {"data":{"name":"pts"},"transform":[{"filter":"datum.t==='post'&&datum.g==='LH'"}],"mark":{"type":"circle","size":24,"color":"#000000","opacity":1},
   "encoding":{"x":{"field":"x","type":"quantitative","scale":{"domain":[-3.16,3.16],"nice":false,"zero":false},"axis":{"orient":"bottom","values":[-2.5,-1.5,-0.5,0.5,1.5,2.5],"labels":false,"ticks":false,"grid":true,"gridWidth":0.8,"title":null}},
    "y":{"field":"y","type":"quantitative","scale":{"domain":[-15,99],"nice":false,"zero":false},"axis":{"orient":"left","values":[-12.5,12.5,37.5,62.5,87.5],"labels":false,"ticks":false,"grid":true,"gridWidth":0.8,"title":null}}}},
  {"data":{"name":"qql"},"transform":[{"filter":"datum.t==='post'&&datum.g==='LH'"}],"mark":{"type":"line","color":"#000000","strokeWidth":1},
   "encoding":{"x":{"field":"x","type":"quantitative","axis":{"orient":"bottom","values":[-3,-2,-1,0,1,2,3],"grid":true,"gridWidth":1.5,"title":null}},
    "y":{"field":"y","type":"quantitative","axis":{"orient":"left","values":[0,25,50,75],"grid":true,"gridWidth":1.5,"labels":false,"ticks":false,"title":null}}}}]},
 {"width":199,"height":127,"view":{"stroke":"#333333","strokeWidth":1.2},"resolve":{"axis":{"x":"independent","y":"independent"}},"layer":[
  {"data":{"name":"pts"},"transform":[{"filter":"datum.t==='post'&&datum.g==='LL'"}],"mark":{"type":"circle","size":24,"color":"#000000","opacity":1},
   "encoding":{"x":{"field":"x","type":"quantitative","scale":{"domain":[-3.16,3.16],"nice":false,"zero":false},"axis":{"orient":"bottom","values":[-2.5,-1.5,-0.5,0.5,1.5,2.5],"labels":false,"ticks":false,"grid":true,"gridWidth":0.8,"title":null}},
    "y":{"field":"y","type":"quantitative","scale":{"domain":[-15,99],"nice":false,"zero":false},"axis":{"orient":"left","values":[-12.5,12.5,37.5,62.5,87.5],"labels":false,"ticks":false,"grid":true,"gridWidth":0.8,"title":null}}}},
  {"data":{"name":"qql"},"transform":[{"filter":"datum.t==='post'&&datum.g==='LL'"}],"mark":{"type":"line","color":"#000000","strokeWidth":1},
   "encoding":{"x":{"field":"x","type":"quantitative","axis":{"orient":"bottom","values":[-3,-2,-1,0,1,2,3],"grid":true,"gridWidth":1.5,"title":null}},
    "y":{"field":"y","type":"quantitative","axis":{"orient":"left","values":[0,25,50,75],"grid":true,"gridWidth":1.5,"labels":false,"ticks":false,"title":null}}}}]}
]
}
